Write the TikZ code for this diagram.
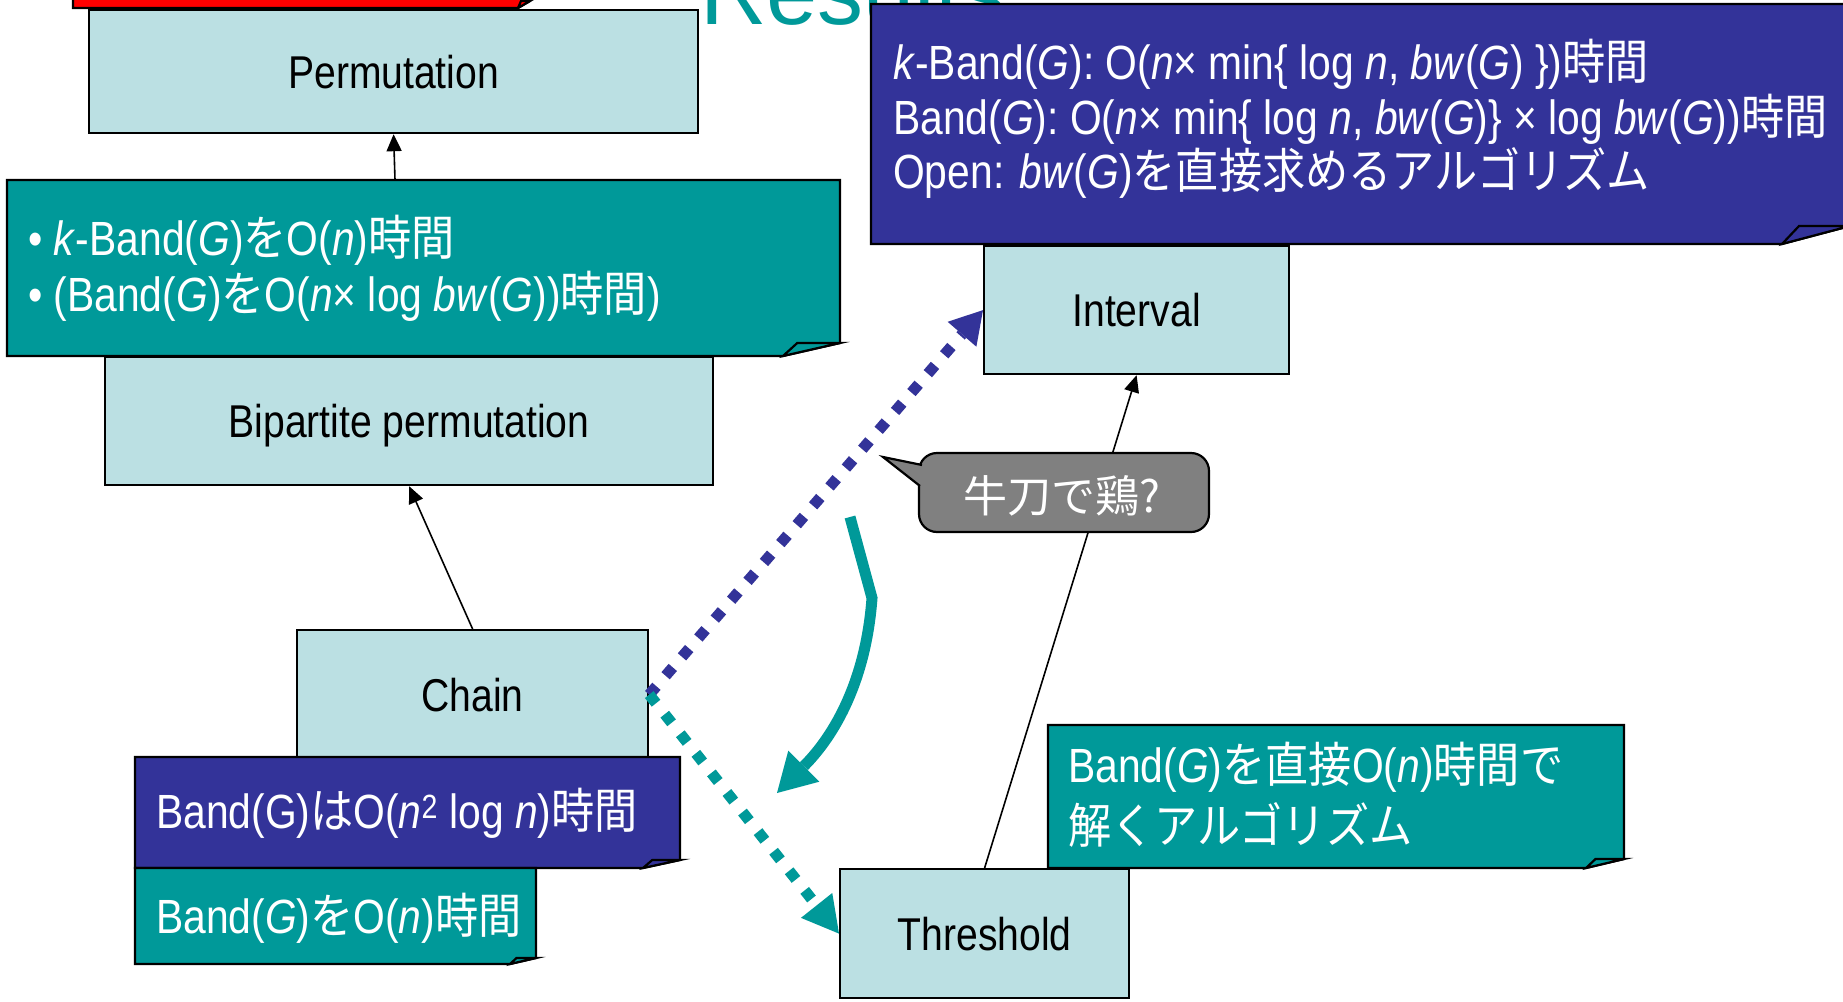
\documentclass[tikz,border=0pt]{standalone}
\usepackage{fontspec}
\setmainfont{Liberation Sans}[FakeStretch=0.85]
\newfontfamily\jpfont{Noto Sans CJK JP}[FakeStretch=0.9]
\newfontfamily\bubfont{Noto Sans CJK JP}
\newfontfamily\titlefont{Liberation Sans}
\newcommand\J[1]{{\jpfont #1}}
\usetikzlibrary{arrows.meta}
\definecolor{boxc}{RGB}{187,224,227}
\definecolor{tealc}{RGB}{0,153,153}
\definecolor{bluec}{RGB}{51,51,153}
\definecolor{grayc}{RGB}{128,128,128}
\newcommand\notepath[7]{%
  \filldraw[notebd, fill=#1] (#2,#3) -- (#4,#3) -- (#4,{#5-#7}) -- ({#4-#6},#5) -- (#2,#5) -- cycle;
  \filldraw[notebd, fill=#1] ({#4-#6},#5) -- ({#4-0.75*#6},{#5-#7}) -- (#4,{#5-#7}) -- cycle;
}
\begin{document}
\begin{tikzpicture}[x=1pt,y=-1pt,
  notebd/.style={draw=black, line width=2.2pt, line join=miter},
  box/.style={draw=black, line width=2.2pt, fill=boxc, inner sep=0pt, anchor=north west,
     font=\fontsize{46}{55}\selectfont, text height=33pt, text depth=0pt},
  ntext/.style={anchor=base west, inner sep=0pt, text=white, font=\fontsize{48}{58}\selectfont},
  blk/.style={draw=black, line width=1.6pt, -{Triangle[length=17pt,width=15pt]}},
  bluedots/.style={draw=bluec, line width=11pt, dash pattern=on 11pt off 14pt,
     -{Triangle[length=32pt,width=38pt,line width=0pt]}},
  tealdots/.style={draw=tealc, line width=11pt, dash pattern=on 11pt off 14pt,
     -{Triangle[length=36pt,width=40pt,line width=0pt]}},
  curvearr/.style={draw=tealc, line width=11pt, line join=miter,
     -{Triangle[length=38pt,width=44pt,line width=0pt]}},
  bubbd/.style={draw=black, line width=2.2pt}
]
\useasboundingbox (0,0) rectangle (1843,1001);
\fill[white] (0,0) rectangle (1843,1001);

% title (mostly cut off)
\node[anchor=base west, inner sep=0pt, text=tealc, font=\titlefont\fontsize{92}{92}\selectfont] (title) at (700,24) {Results};

% red note at top (cut off)
\notepath{red}{73}{-60}{530}{8}{12}{7}

% boxes
\node[box, minimum width=609pt, minimum height=123pt] (perm) at (88,9) {Permutation};
\node[box, minimum width=608pt, minimum height=128pt] (bip) at (104,356) {Bipartite permutation};
\node[box, minimum width=351pt, minimum height=129pt] (chain) at (296,629) {Chain};
\node[box, minimum width=305pt, minimum height=128pt] (interval) at (983,245) {Interval};
\node[box, minimum width=289pt, minimum height=129pt] (threshold) at (839,868) {Threshold};

% thin arrows
\coordinate (n1top) at (395,180);
\draw[blk] (n1top) -- (perm.south);
\draw[blk] (chain.north) -- (bip.south);
\draw[blk] (threshold.north) -- (interval.south);

% note 1 (teal, left)
\notepath{tealc}{7}{180}{840}{356}{57}{13}
\node[ntext] (n1a) at (28,255) {• \textit{k}-Band(\textit{G})\J{を}O(\textit{n})\J{時間}};
\node[ntext] (n1b) at (28,311) {• (Band(\textit{G})\J{を}O(\textit{n}× log \textit{bw}(\textit{G}))\J{時間})};

% top-right note (blue)
\notepath{bluec}{871}{4}{1850}{244}{68}{18}
\node[ntext] (n2a) at (893,79) {\textit{k}-Band(\textit{G}): O(\textit{n}× min\{ log \textit{n}, \textit{bw}(\textit{G}) \})\J{時間}};
\node[ntext] (n2b) at (893,134) {Band(\textit{G}): O(\textit{n}× min\{ log \textit{n}, \textit{bw}(\textit{G})\} × log \textit{bw}(\textit{G}))\J{時間}};
\node[ntext] (n2c) at (893,188) {Open: \textit{bw}(\textit{G})\J{を直接求めるアルゴリズム}};

% bottom-left notes
\notepath{bluec}{135}{757}{680}{868}{37}{8}
\node[ntext] (n3) at (156,828) {Band(G)\J{は}O(\textit{n}\textsuperscript{2} log \textit{n})\J{時間}};
\notepath{tealc}{135}{868}{536}{964}{26}{6}
\node[ntext] (n4) at (156,933) {Band(\textit{G})\J{を}O(\textit{n})\J{時間}};

% right teal note
\notepath{tealc}{1048}{725}{1624}{868}{38}{9}
\node[ntext] (n5a) at (1068,782) {Band(\textit{G})\J{を直接}O(\textit{n})\J{時間で}};
\node[ntext] (n5b) at (1068,843) {\J{解くアルゴリズム}};

% dotted arrows
\draw[bluedots] (chain.east) -- (interval.west);
\draw[tealdots] (chain.east) -- (threshold.west);

% curved arrow
\coordinate (c0) at (850,517);
\coordinate (c1) at (872,598);
\coordinate (c2) at (777,793);
\draw[curvearr] (c0) -- (c1) .. controls (866,680) and (835,735) .. (c2);

% speech bubble
\filldraw[bubbd, fill=grayc, rounded corners=18pt] (919,453) rectangle (1209,532);
\fill[grayc] (883,457) -- (922,465) -- (930,465) -- (930,486) -- (920,486) -- cycle;
\draw[bubbd, line join=miter] (922,465) -- (883,457) -- (920,486);
\node[inner sep=0pt, text=white, font=\bubfont\fontsize{44}{50}\selectfont] (bub) at (1062,496) {牛刀で鶏?};
\end{tikzpicture}
\end{document}
